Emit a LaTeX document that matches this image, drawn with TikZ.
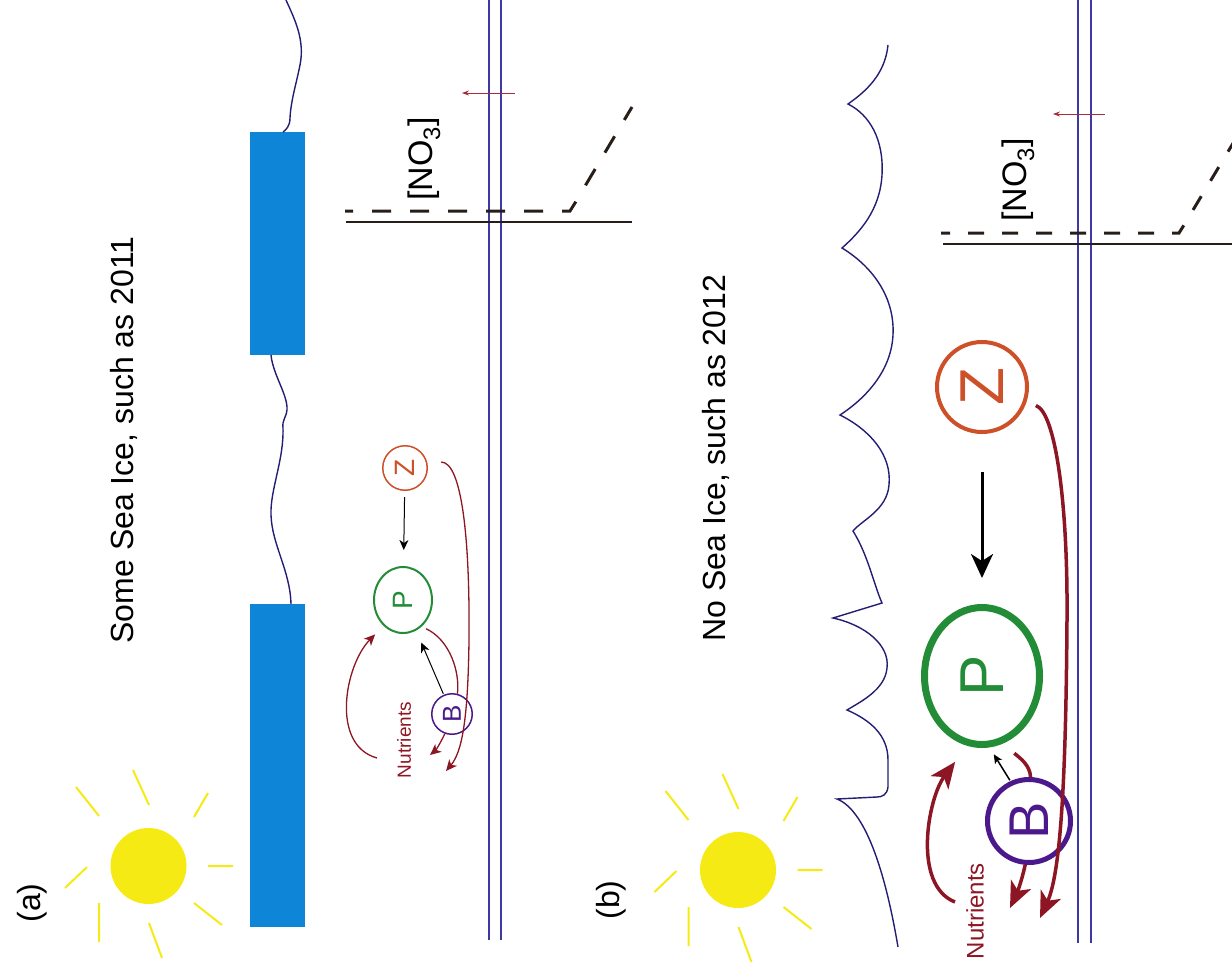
\documentclass[tikz,border=0pt]{standalone}
\usepackage{graphicx}
\usepackage{fontspec}
\setmainfont{Liberation Sans}
\usetikzlibrary{arrows.meta,shapes.geometric}

\definecolor{iceblue}{RGB}{14,133,214}
\definecolor{sunyellow}{RGB}{246,234,20}
\definecolor{surfnavy}{RGB}{35,30,115}
\definecolor{layerblue}{RGB}{62,56,162}
\definecolor{nutred}{RGB}{140,22,35}
\definecolor{thinred}{RGB}{165,45,60}
\definecolor{phygreen}{RGB}{35,140,55}
\definecolor{zoorange}{RGB}{205,80,40}
\definecolor{bacpurple}{RGB}{75,25,140}
\definecolor{profile}{RGB}{40,30,25}

\newcommand{\fsz}[1]{\fontsize{#1}{#1}\selectfont}

\tikzset{
  sunpic/.pic={
    \fill[sunyellow] (0,0) circle[radius=38];
    \draw[sunyellow, line width=2pt]
      (-72.5,-79) -- (-49.5,-50)  (-15.5,-96) -- (0.5,-61)
      (59.5,-73) -- (45.5,-49)    (59.5,0) -- (84.5,0)
      (45.5,37) -- (73.5,59)      (0.5,57) -- (13.5,92)
      (-49.5,37) -- (-49.5,76)    (-61.5,1) -- (-83.5,22);
  },
  title/.style={rotate=90, font=\fsz{32}, inner sep=0pt},
  nolabel/.style={rotate=90, font=\fsz{34}, inner sep=0pt},
  nutlabel/.style={rotate=90, text=nutred, inner sep=0pt},
  surface/.style={draw=surfnavy, line width=1.4pt},
  layer/.style={draw=layerblue, line width=1.5pt},
  axisline/.style={draw=profile, line width=1.2pt},
  smallred/.style={draw=thinred, line width=0.7pt, -{Stealth[length=7pt,width=5pt]}},
  % panel (a) food web
  zooA/.style={circle, draw=zoorange, line width=1.5pt, minimum size=44.5pt, inner sep=0pt, text=zoorange, font=\fsz{28}},
  phyA/.style={ellipse, draw=phygreen, line width=2pt, minimum width=58pt, minimum height=66pt, inner sep=0pt, text=phygreen, font=\fsz{28}},
  bacA/.style={circle, draw=bacpurple, line width=1.5pt, minimum size=40.5pt, inner sep=0pt, text=bacpurple, font=\fsz{26}},
  blkA/.style={draw=black, line width=1pt, -{Stealth[length=10pt,width=9pt,inset=3pt]}},
  redA/.style={draw=nutred, line width=1.3pt},
  redAarr/.style={redA, -{Stealth[length=11pt,width=10pt,inset=3pt]}},
  % panel (b) food web
  zooB/.style={circle, draw=zoorange, line width=4pt, minimum size=90pt, inner sep=0pt, text=zoorange, font=\fsz{62}},
  phyB/.style={ellipse, draw=phygreen, line width=7pt, minimum width=115pt, minimum height=137pt, inner sep=0pt, text=phygreen, font=\fsz{62}},
  bacB/.style={circle, draw=bacpurple, line width=5pt, minimum size=83pt, inner sep=0pt, text=bacpurple, font=\fsz{56}},
  blkB/.style={draw=black, line width=3pt, -{Stealth[length=24pt,width=22pt,inset=7pt]}},
  blkBsmall/.style={draw=black, line width=1.5pt, -{Stealth[length=9pt,width=8pt,inset=2pt]}},
  redB/.style={draw=nutred, line width=3.5pt},
  redBarr/.style={redB, -{Stealth[length=26pt,width=22pt,inset=7pt]}},
}

\begin{document}
\begin{tikzpicture}[x=1pt, y=-1pt]
\useasboundingbox (0,0) rectangle (1232,978);
\clip (0,0) rectangle (1232,978);

% ---------------- panel (a): some sea ice ----------------
\node[title] (labA) at (32,903) {(a)};
\node[title] (titleA) at (124,440) {Some Sea Ice, such as 2011};
\pic at (148.5,866) {sunpic};

% ice floes and open water surface
\fill[iceblue] (250,604) rectangle (305,927);
\fill[iceblue] (250,132) rectangle (305,355);
\draw[surface] (286,0) .. controls (295,20) and (305,40) .. (300,65)
  .. controls (296,85) and (291,100) .. (290,118)
  .. controls (290,126) and (286,130) .. (283,132);
\draw[surface] (271,355) .. controls (273,375) and (288,395) .. (287,410)
  .. controls (286,418) and (282,420) .. (283,428)
  .. controls (284,460) and (270,490) .. (271,515)
  .. controls (272,545) and (290,570) .. (291,604);

% mixed layer boundary
\draw[layer] (489,0) -- (489,940);
\draw[layer] (501,0) -- (501,940);

% nitrate profile
\draw[axisline] (346,222) -- (632,222);
\draw[profile, line width=3pt, dash pattern=on 19pt off 19pt, dash phase=11pt]
  (345,211) -- (570,211) -- (575,203) -- (632,107);
\node[nolabel] (noA) at (424,159) {[NO\textsubscript{3}]};
\coordinate (flxA1) at (515,93);
\coordinate (flxA2) at (462,93);
\draw[smallred] (flxA1) -- (flxA2);

% food web
\node[zooA] (zA) at (405,468) {\rotatebox{90}{Z}};
\node[phyA] (pA) at (403,600) {\rotatebox{90}{P}};
\node[bacA] (bA) at (452,714) {\rotatebox{90}{B}};
\node[nutlabel, font=\fsz{19}] (nutA) at (404,740) {Nutrients};
\coordinate (nA1) at (377,758);
\coordinate (nA2) at (430,755);
\coordinate (nA3) at (446,771);

\draw[blkA, shorten <=6pt, shorten >=16pt] (zA) -- (pA);
\draw[blkA, shorten <=1pt, shorten >=13pt] (bA) -- (pA);
\draw[redAarr, shorten >=12pt] (nA1) .. controls (330,745) and (345,665) .. (pA.233);
\draw[redA, shorten <=5pt] (pA.305) .. controls (450,640) and (460,672) .. (bA.75);
\draw[redAarr] (bA.250) .. controls (441,742) and (436,750) .. (nA2);
\draw[redAarr, shorten <=14pt] (zA.15) .. controls (462,462) and (470,540) .. (469,640)
  .. controls (468,720) and (462,752) .. (nA3);

% ---------------- panel (b): no sea ice ----------------
\node[title] (labB) at (611,900) {(b)};
\node[title] (titleB) at (716,458) {No Sea Ice, such as 2012};
\pic at (738,870) {sunpic};

% wavy open water surface
\draw[surface] (888,45) .. controls (885,75) and (865,92) .. (848,104)
  .. controls (870,115) and (884,140) .. (882,175)
  .. controls (880,210) and (860,232) .. (842,248)
  .. controls (870,265) and (895,295) .. (893,335)
  .. controls (891,375) and (860,402) .. (840,415)
  .. controls (870,430) and (892,455) .. (889,485)
  .. controls (887,510) and (862,520) .. (853,531)
  .. controls (868,555) and (874,585) .. (882,603) -- (833,618)
  .. controls (865,625) and (890,645) .. (887,668)
  .. controls (885,690) and (860,702) .. (847,710)
  .. controls (870,720) and (888,735) .. (888,760) -- (888,787)
  .. controls (887,795) and (882,797) .. (877,797) -- (837,799)
  .. controls (865,810) and (885,870) .. (898,947);

% mixed layer boundary
\draw[layer] (1078,0) -- (1078,943);
\draw[layer] (1091,0) -- (1091,943);

% nitrate profile
\draw[axisline] (943,244) -- (1232,244);
\draw[profile, line width=3pt, dash pattern=on 16pt off 18pt, dash phase=7pt]
  (941,233) -- (1179,233) -- (1184,225) -- (1250,115);
\node[nolabel] (noB) at (1018,180) {[NO\textsubscript{3}]};
\coordinate (flxB1) at (1105,114);
\coordinate (flxB2) at (1053,114);
\draw[smallred] (flxB1) -- (flxB2);

% food web
\node[zooB] (zB) at (982,387) {\rotatebox{90}{Z}};
\node[phyB] (pB) at (982,676) {\rotatebox{90}{P}};
\node[bacB] (bB) at (1029,821) {\rotatebox{90}{B}};
\node[nutlabel, font=\fsz{24}] (nutB) at (975,911) {Nutrients};
\coordinate (nB1) at (955,902);
\coordinate (nB2) at (1010,908);
\coordinate (nB3) at (1040,918);

\draw[blkB, shorten <=38pt, shorten >=26pt] (zB) -- (pB);
\draw[blkBsmall, shorten <=1pt, shorten >=8pt] (bB.115) -- (pB.276);
\draw[redBarr, shorten >=20pt] (nB1) .. controls (912,885) and (928,798) .. (pB.258);
\draw[redB, shorten <=15pt] (pB.287) .. controls (1020,758) and (1030,765) .. (bB.88);
\draw[redBarr] (bB.265) .. controls (1022,880) and (1017,893) .. (nB2);
\draw[redBarr, shorten <=10pt] (zB.341) .. controls (1055,412) and (1068,500) .. (1067,620)
  .. controls (1066,760) and (1062,870) .. (nB3);
\end{tikzpicture}
\end{document}
